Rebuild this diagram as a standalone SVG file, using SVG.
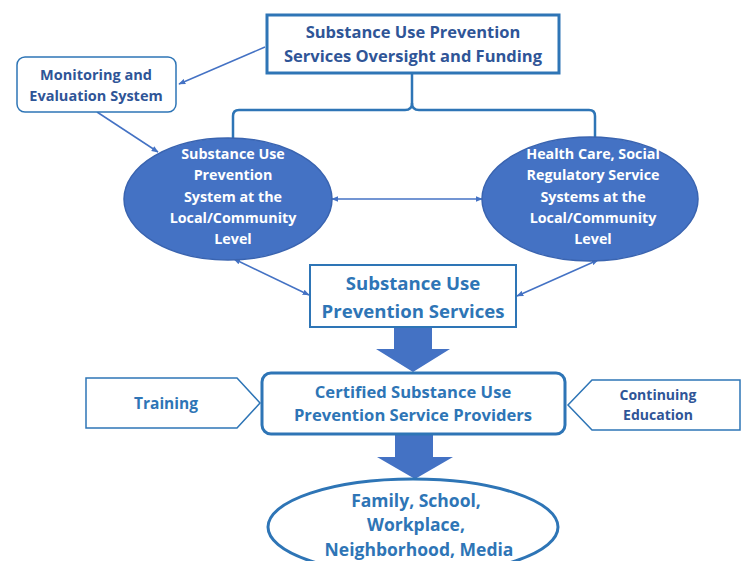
<svg xmlns="http://www.w3.org/2000/svg" width="748" height="561" viewBox="0 0 748 561">
<defs>
<marker id="ah" viewBox="0 0 10 10" refX="9" refY="5" markerWidth="7" markerHeight="7" orient="auto-start-reverse" markerUnits="userSpaceOnUse"><path d="M0,1 L10,5 L0,9 z" fill="#4472c4"/></marker>
</defs>
<style>
.t{font-family:"Open Sans","Liberation Sans",sans-serif;font-weight:bold;text-anchor:middle}
.dk{fill:#2f5597}
.lt{fill:#2e75b6}
.wh{fill:#ffffff}
.box{fill:#ffffff;stroke:#2e75b6}
.con{fill:none;stroke:#4472c4;stroke-width:1.5}
.blk{fill:#4472c4}
.ell{fill:#4472c4;stroke:#3a64b0;stroke-width:1.5}
</style>
<rect width="748" height="561" fill="#ffffff"/>
<g id="connectors">
<line class="con" x1="265" y1="47" x2="179" y2="84" marker-end="url(#ah)"/>
<line class="con" x1="97" y1="112" x2="158" y2="152" marker-end="url(#ah)"/>
<path d="M412,74 V103 Q412,110 405,110 H239 Q233,110 233,116 V140" fill="none" stroke="#2e75b6" stroke-width="2.5"/>
<path d="M412,103 Q412,110 419,110 H589 Q595,110 595,116 V138" fill="none" stroke="#2e75b6" stroke-width="2.5"/>
<line class="con" x1="332" y1="199" x2="482" y2="199" marker-start="url(#ah)" marker-end="url(#ah)"/>
<line class="con" x1="234" y1="259" x2="309" y2="295" marker-start="url(#ah)" marker-end="url(#ah)"/>
<line class="con" x1="598" y1="260" x2="517" y2="296" marker-start="url(#ah)" marker-end="url(#ah)"/>
<path class="blk" d="M394,328 H432 V349 H450 L413,372 L376,349 H394 Z"/>
<path class="blk" d="M395,435 H433 V457 H453 L415,479 L377,457 H395 Z"/>
</g>
<g id="oversight">
<rect class="box" x="267" y="15" width="292" height="58" stroke-width="3"/>
<text class="t dk" font-size="16.5" x="413" y="38">Substance Use Prevention</text>
<text class="t dk" font-size="16.5" x="413" y="62">Services Oversight and Funding</text>
</g>
<g id="monitoring">
<rect class="box" x="17" y="57" width="159" height="55" rx="8" stroke-width="1.5"/>
<text class="t dk" font-size="14.5" x="96" y="80">Monitoring and</text>
<text class="t dk" font-size="14.5" x="96" y="101">Evaluation System</text>
</g>
<g id="local-system">
<ellipse class="ell" cx="228" cy="199" rx="104" ry="61"/>
<text class="t wh" font-size="14.3" x="233" y="159">Substance Use</text>
<text class="t wh" font-size="14.3" x="233" y="180">Prevention</text>
<text class="t wh" font-size="14.3" x="233" y="202">System at the</text>
<text class="t wh" font-size="14.3" x="233" y="223">Local/Community</text>
<text class="t wh" font-size="14.3" x="233" y="244">Level</text>
</g>
<g id="health-care">
<ellipse class="ell" cx="590" cy="199" rx="108" ry="62"/>
<text class="t wh" font-size="14.3" x="593" y="159">Health Care, Social</text>
<text class="t wh" font-size="14.3" x="593" y="180">Regulatory Service</text>
<text class="t wh" font-size="14.3" x="593" y="202">Systems at the</text>
<text class="t wh" font-size="14.3" x="593" y="223">Local/Community</text>
<text class="t wh" font-size="14.3" x="593" y="244">Level</text>
</g>
<g id="services">
<rect class="box" x="310" y="265" width="206" height="62" stroke-width="2"/>
<text class="t lt" font-size="18.6" x="413" y="290">Substance Use</text>
<text class="t lt" font-size="18.6" x="413" y="318">Prevention Services</text>
</g>
<g id="providers">
<rect class="box" x="262" y="373" width="303" height="61" rx="9" stroke-width="3"/>
<text class="t lt" font-size="16.6" x="413" y="398">Certified Substance Use</text>
<text class="t lt" font-size="16.6" x="413" y="421">Prevention Service Providers</text>
</g>
<g id="training">
<path class="box" d="M86,378 H237 L260,403 L237,428 H86 Z" stroke-width="1.5"/>
<text class="t lt" font-size="15.5" x="166" y="409">Training</text>
</g>
<g id="continuing-education">
<path class="box" d="M740,380 H592 L568,405 L592,430 H740 Z" stroke-width="1.5"/>
<text class="t dk" font-size="14" x="658" y="400">Continuing</text>
<text class="t dk" font-size="14" x="658" y="420">Education</text>
</g>
<g id="settings">
<ellipse cx="413" cy="527" rx="145" ry="48" fill="#ffffff" stroke="#2e75b6" stroke-width="3"/>
<text class="t lt" font-size="17.5" x="416" y="507">Family, School,</text>
<text class="t lt" font-size="17.5" x="416" y="531">Workplace,</text>
<text class="t lt" font-size="17.5" x="419" y="556">Neighborhood, Media</text>
</g>
</svg>
